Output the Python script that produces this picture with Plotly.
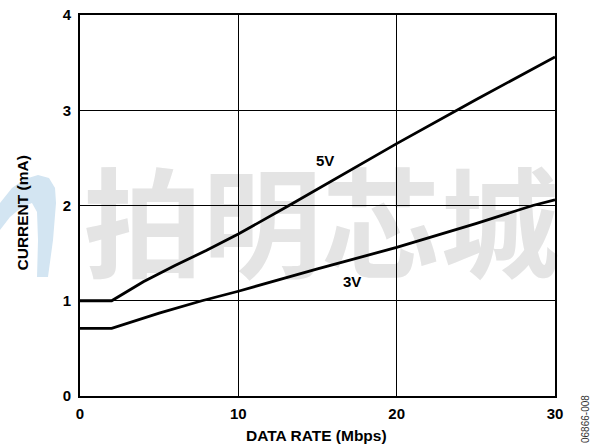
import plotly.graph_objects as go

# Data
rate_5v = [0, 2, 4, 6, 8, 10, 13.2, 20, 25, 30]
current_5v = [1.0, 1.0, 1.2, 1.37, 1.53, 1.70, 2.0, 2.65, 3.11, 3.56]

rate_3v = [0, 2, 5, 7.7, 10, 15, 20, 25, 28.6, 30]
current_3v = [0.71, 0.71, 0.87, 1.0, 1.10, 1.335, 1.56, 1.81, 2.0, 2.06]

x_ticks = [0, 10, 20, 30]
y_ticks = [0, 1, 2, 3, 4]

FONT = "Liberation Sans, Arial, Helvetica, sans-serif"
BOLD = dict(family=FONT, color="black", weight="bold")
CENTER = dict(xanchor="center", yanchor="middle", showarrow=False)

fig = go.Figure()
fig.add_trace(go.Scatter(x=rate_5v, y=current_5v, mode="lines",
                         line=dict(color="black", width=2.8), hoverinfo="skip"))
fig.add_trace(go.Scatter(x=rate_3v, y=current_3v, mode="lines",
                         line=dict(color="black", width=2.8), hoverinfo="skip"))

# plot area in screen pixels: x 80..555, y 15..396
def px(x):
    return (x - 80) / 475.0

def py(y):
    return (396 - y) / 381.0

# light blue logo fragment at left
pts = [(0, 203), (12, 188), (25, 179), (38, 175), (49, 178), (55, 188), (56, 203),
       (53, 240), (48, 277), (37, 277), (38, 240), (37, 212), (32, 203),
       (22, 207), (10, 217), (0, 230)]
path = "M " + " L ".join(f"{px(a):.4f},{py(b):.4f}" for a, b in pts) + " Z"
fig.add_shape(type="path", path=path, xref="paper", yref="paper",
              fillcolor="#d3e5f2", line=dict(width=0), layer="below")

# watermark below grid
fig.add_shape(type="rect", xref="paper", yref="paper",
              x0=px(90), x1=px(553), y0=py(294), y1=py(178),
              line=dict(width=0), fillcolor="rgba(0,0,0,0)", layer="below",
              label=dict(text="拍明芯城", textposition="middle center",
                         font=dict(family="Noto Sans CJK SC", size=119,
                                   color="#e4e4e4", weight="bold")))

fig.add_annotation(x=15.5, y=2.47, text="5V", font=dict(size=15, **BOLD), **CENTER)
fig.add_annotation(x=17.2, y=1.20, text="3V", font=dict(size=15, **BOLD), **CENTER)

# axis titles
fig.add_annotation(x=px(316.5), y=py(435), xref="paper", yref="paper",
                   text="DATA RATE (Mbps)", font=dict(size=15.5, **BOLD), **CENTER)
fig.add_annotation(x=px(21.5), y=py(213), xref="paper", yref="paper",
                   text="CURRENT (mA)", textangle=-90,
                   font=dict(size=15.5, **BOLD), **CENTER)

fig.add_annotation(x=px(585), y=py(419), xref="paper", yref="paper",
                   text="06866-008", textangle=-90,
                   font=dict(family=FONT, size=10, color="#333333"), **CENTER)

fig.update_xaxes(range=[0, 30], tickvals=x_ticks, ticktext=[str(v) for v in x_ticks],
                 showgrid=True, gridcolor="black", gridwidth=1,
                 showline=True, linecolor="black", linewidth=2, mirror=True,
                 zeroline=False, ticks="", ticklabelstandoff=3,
                 ticklabeloverflow="allow",
                 tickfont=dict(size=15, **BOLD))
fig.update_yaxes(range=[0, 4], tickvals=y_ticks, ticktext=[str(v) for v in y_ticks],
                 showgrid=True, gridcolor="black", gridwidth=1,
                 showline=True, linecolor="black", linewidth=2, mirror=True,
                 zeroline=False, ticks="", ticklabelstandoff=4,
                 ticklabeloverflow="allow",
                 tickfont=dict(size=15, **BOLD))

fig.update_layout(width=599, height=446, showlegend=False,
                  margin=dict(l=80, r=44, t=15, b=50, autoexpand=False),
                  paper_bgcolor="white", plot_bgcolor="white")

# remove the default 8px page margin so the figure fills the window exactly
fig.write_html("out.html", config={"displayModeBar": False, "staticPlot": True},
               post_script="document.body.style.margin='0';")
